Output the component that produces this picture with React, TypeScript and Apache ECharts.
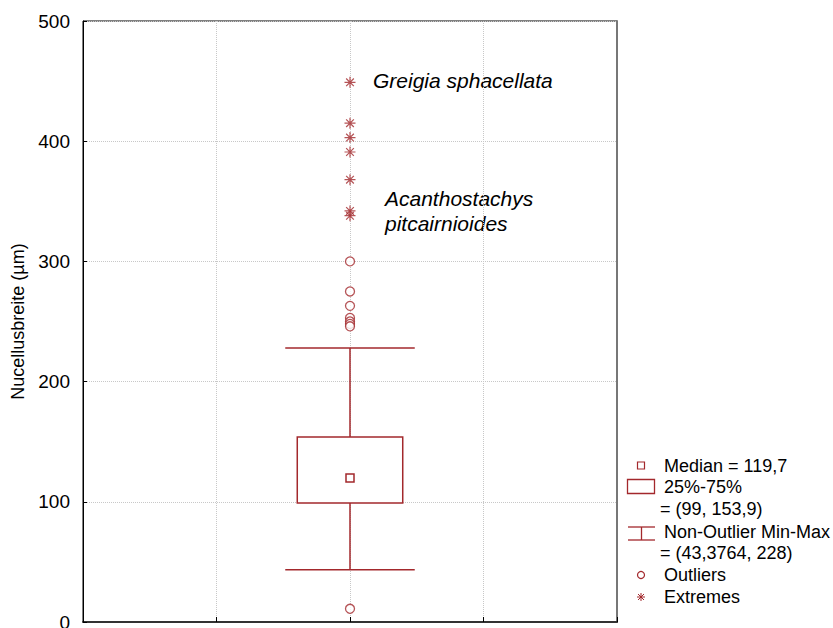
import React, { useEffect, useRef } from "react";
import * as echarts from "echarts";

const RED = "#a3282c";
const FONT = "Arial, 'Liberation Sans', sans-serif";

const yTicks = [0, 100, 200, 300, 400, 500];
const boxStats = [[2, 43.3764, 99, 119.7, 153.9, 228]]; // x, min, q1, median, q3, max
const outliers = [300, 275, 263, 253, 250, 248, 246, 11];
const extremes = [449, 415, 403, 391, 368, 342, 338];
const legendLines = [
  "Median = 119,7",
  "25%-75%",
  "= (99, 153,9)",
  "Non-Outlier Min-Max",
  "= (43,3764, 228)",
  "Outliers",
  "Extremes",
];
const annotations = ["Greigia sphacellata", "Acanthostachys", "pitcairnioides"];

const STAR = "path://M0,5L10,5M5,0L5,10M1.5,1.5L8.5,8.5M8.5,1.5L1.5,8.5";

export default function App() {
  const ref = useRef<HTMLDivElement>(null);
  useEffect(() => {
    if (!ref.current) return;
    const chart = echarts.init(ref.current, undefined, { renderer: "svg" });
    const txt = (text: string, x: number, y: number, size = 18, italic = false) => ({
      type: "text",
      x,
      y,
      style: {
        text,
        fill: "#000",
        font: `${italic ? "italic " : ""}${size}px ${FONT}`,
        textVerticalAlign: "middle",
        verticalAlign: "middle",
      },
    });
    const ln = (x1: number, y1: number, x2: number, y2: number, w = 1.3) => ({
      type: "line",
      shape: { x1, y1, x2, y2 },
      style: { stroke: RED, lineWidth: w },
    });
    chart.setOption({
      animation: false,
      grid: {
        left: 83,
        right: 216,
        top: 21,
        bottom: 6,
        show: true,
        borderColor: "#000",
        borderWidth: 1,
        outerBoundsMode: "none",
        containLabel: false,
      },
      xAxis: {
        type: "value",
        min: 0,
        max: 4,
        interval: 1,
        axisLabel: { show: false },
        axisTick: { show: true, inside: true, length: 5, lineStyle: { color: "#000" } },
        axisLine: { show: true, lineStyle: { color: "#333", width: 2 } },
        splitLine: { show: true, lineStyle: { color: "#c8c8c8", type: "dotted", width: 1 } },
      },
      yAxis: [
        {
          type: "value",
          min: 0,
          max: 500,
          interval: 100,
          name: "Nucellusbreite (µm)",
          nameLocation: "middle",
          nameGap: 56,
          nameTextStyle: { fontFamily: FONT, fontSize: 18, color: "#000", padding: [0, 0, 0, 0] },
          axisLabel: {
            fontFamily: FONT,
            fontSize: 19,
            color: "#000",
            margin: 13,
            formatter: (v: number) => (yTicks.includes(v) ? String(v) : ""),
          },
          axisTick: { show: true, inside: true, length: 4, lineStyle: { color: "#000" } },
          axisLine: { show: true, lineStyle: { color: "#000", width: 1 } },
          splitLine: { show: true, lineStyle: { color: "#c8c8c8", type: "dotted", width: 1 } },
        },
        {
          type: "value",
          position: "right",
          min: 0,
          max: 500,
          interval: 100,
          axisLabel: { show: false },
          axisTick: { show: false },
          splitLine: { show: false },
          axisLine: { show: true, lineStyle: { color: "#777", width: 2 } },
        },
      ],
      series: [
        {
          type: "custom",
          data: boxStats,
          z: 3,
          renderItem: (params: any, api: any) => {
            const x = api.value(0);
            const lo = api.coord([x, api.value(1)]);
            const q1 = api.coord([x, api.value(2)]);
            const med = api.coord([x, api.value(3)]);
            const q3 = api.coord([x, api.value(4)]);
            const hi = api.coord([x, api.value(5)]);
            const bw = api.size([0.79, 0])[0];
            const cw = api.size([0.97, 0])[0];
            const st = { stroke: RED, lineWidth: 1.5, fill: "none" };
            return {
              type: "group",
              children: [
                { type: "line", shape: { x1: lo[0], y1: lo[1], x2: q1[0], y2: q1[1] }, style: st },
                { type: "line", shape: { x1: q3[0], y1: q3[1], x2: hi[0], y2: hi[1] }, style: st },
                { type: "line", shape: { x1: lo[0] - cw / 2, y1: lo[1], x2: lo[0] + cw / 2, y2: lo[1] }, style: st },
                { type: "line", shape: { x1: hi[0] - cw / 2, y1: hi[1], x2: hi[0] + cw / 2, y2: hi[1] }, style: st },
                {
                  type: "rect",
                  shape: { x: q3[0] - bw / 2, y: q3[1], width: bw, height: q1[1] - q3[1] },
                  style: { ...st, fill: "#fff" },
                },
                {
                  type: "rect",
                  shape: { x: med[0] - 4, y: med[1] - 4, width: 8, height: 8 },
                  style: st,
                },
              ],
            };
          },
        },
        {
          type: "scatter",
          data: outliers.map((v) => [2, v]),
          symbol: "circle",
          symbolSize: 9,
          itemStyle: { color: "#fff", borderColor: RED, borderWidth: 1.3 },
          z: 4,
        },
        {
          type: "scatter",
          data: extremes.map((v) => [2, v]),
          symbol: STAR,
          symbolSize: 11,
          itemStyle: { color: "transparent", borderColor: RED, borderWidth: 1.2 },
          z: 4,
        },
      ],
      graphic: [
        txt(annotations[0], 373, 80, 21, true),
        txt(annotations[1], 385, 198, 21, true),
        txt(annotations[2], 385, 223, 21, true),
        // legend
        {
          type: "rect",
          shape: { x: 637.5, y: 462, width: 7, height: 7 },
          style: { fill: "none", stroke: RED, lineWidth: 1.2 },
        },
        txt(legendLines[0], 664, 466),
        {
          type: "rect",
          shape: { x: 627.5, y: 479.5, width: 27, height: 14 },
          style: { fill: "none", stroke: RED, lineWidth: 1.3 },
        },
        txt(legendLines[1], 664, 487),
        txt(legendLines[2], 660, 509),
        ln(628, 527, 655, 527),
        ln(628, 540, 655, 540),
        ln(641.5, 527, 641.5, 540),
        txt(legendLines[3], 664, 532),
        txt(legendLines[4], 660, 553),
        {
          type: "circle",
          shape: { cx: 641, cy: 575, r: 3.5 },
          style: { fill: "none", stroke: RED, lineWidth: 1.2 },
        },
        txt(legendLines[5], 664, 575),
        ln(637, 597, 645, 597, 1),
        ln(641, 593, 641, 601, 1),
        ln(638, 594, 644, 600, 1),
        ln(644, 594, 638, 600, 1),
        txt(legendLines[6], 664, 597),
      ],
    });
    return () => chart.dispose();
  }, []);
  return <div ref={ref} style={{ width: 833, height: 628, position: "absolute", left: 0, top: 0 }} />;
}
